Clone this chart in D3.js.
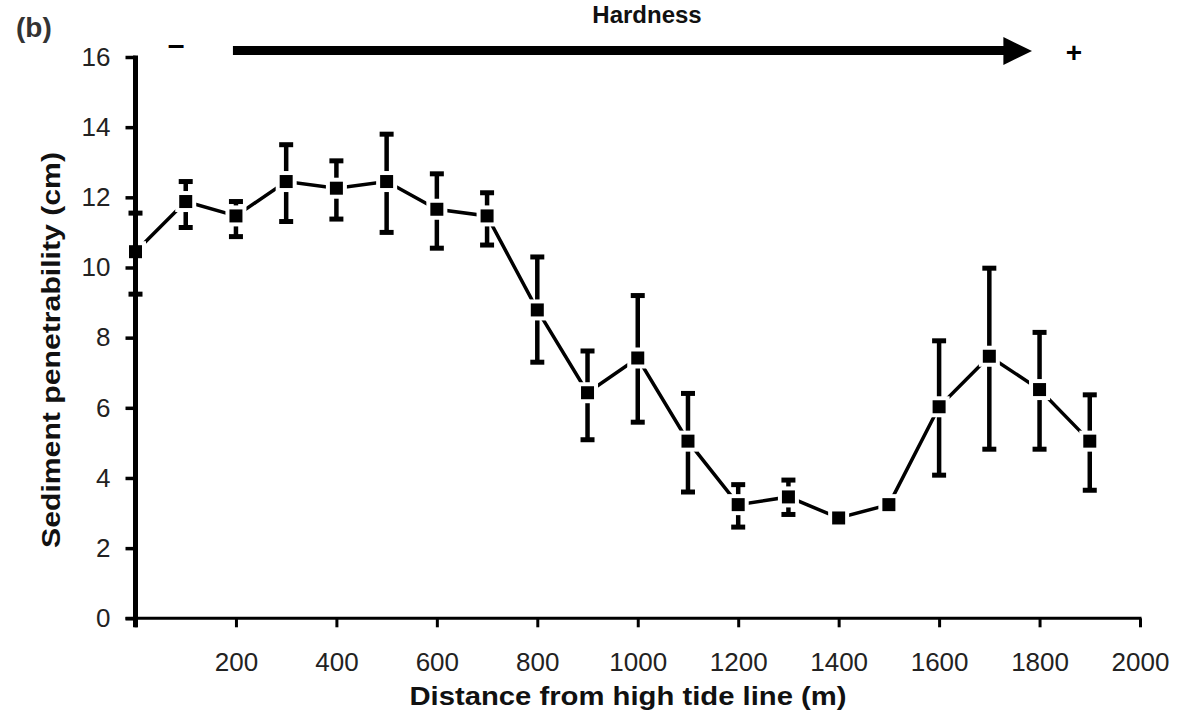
<!DOCTYPE html>
<html>
<head>
<meta charset="utf-8">
<script src="https://cdn.jsdelivr.net/npm/d3@7"></script>
<style>
  body { margin: 0; background: #fff; }
  svg { display: block; font-family: "Liberation Sans", Arial, sans-serif; }
</style>
</head>
<body>
<svg id="chart" width="1177" height="721"></svg>
<script>
// distance from high tide line (m)
const distance = [0, 100, 200, 300, 400, 500, 600, 700, 800, 900, 1000, 1100, 1200, 1300, 1400, 1500, 1600, 1700, 1800, 1900];
// sediment penetrability (cm), mean
const penetrability = [10.45, 11.88, 11.47, 12.45, 12.26, 12.45, 11.66, 11.47, 8.79, 6.43, 7.42, 5.05, 3.24, 3.46, 2.86, 3.24, 6.03, 7.47, 6.52, 5.05];
// error bar ends (null = no bar drawn)
const barTop = [11.55, 12.45, 11.88, 13.5, 13.04, 13.8, 12.67, 12.13, 10.3, 7.62, 9.2, 6.41, 3.81, 3.94, null, null, 7.91, 9.98, 8.15, 6.37];
const barBottom = [9.24, 11.14, 10.88, 11.31, 11.38, 11.0, 10.55, 10.64, 7.3, 5.09, 5.59, 3.6, 2.6, 2.96, null, null, 4.08, 4.82, 4.82, 3.65];

const xTicks = [0, 200, 400, 600, 800, 1000, 1200, 1400, 1600, 1800, 2000];
const yTicks = [0, 2, 4, 6, 8, 10, 12, 14, 16];

const svg = d3.select("#chart");

const x = d3.scaleLinear().domain([0, 2000]).range([135.5, 1140]);
const y = d3.scaleLinear().domain([0, 16]).range([618.3, 57]);

// axes
const xAxis = svg.append("g")
    .attr("transform", `translate(0, ${y(0)})`)
    .call(d3.axisBottom(x).tickValues(xTicks).tickSize(9).tickSizeOuter(0).tickPadding(25)
        .tickFormat(d => d === 0 ? "" : d));
xAxis.select(".domain").attr("stroke", "#000").attr("stroke-width", 3)
    .attr("d", `M${x(0) - 10},0H${x(2000) + 1.5}`);
xAxis.selectAll(".tick line").attr("stroke", "#000").attr("stroke-width", 3);
xAxis.selectAll(".tick text").attr("font-size", 26).attr("fill", "#222");

const yAxis = svg.append("g")
    .attr("transform", `translate(${x(0)}, 0)`)
    .call(d3.axisLeft(y).tickValues(yTicks).tickSize(10).tickSizeOuter(0).tickPadding(15));
yAxis.select(".domain").attr("stroke", "#000").attr("stroke-width", 5)
    .attr("d", `M0,${y(16) - 1.5}V${y(0) + 9}`);
yAxis.selectAll(".tick line").attr("stroke", "#000").attr("stroke-width", 3.5);
yAxis.selectAll(".tick text").attr("font-size", 26).attr("fill", "#222");

// axis titles
svg.append("text")
    .attr("x", 628).attr("y", 705)
    .attr("text-anchor", "middle")
    .attr("font-size", 25).attr("font-weight", "bold").attr("fill", "#111")
    .attr("textLength", 437).attr("lengthAdjust", "spacingAndGlyphs")
    .text("Distance from high tide line (m)");

svg.append("text")
    .attr("transform", "translate(60, 350) rotate(-90)")
    .attr("text-anchor", "middle")
    .attr("font-size", 25).attr("font-weight", "bold").attr("fill", "#111")
    .attr("textLength", 396).attr("lengthAdjust", "spacingAndGlyphs")
    .text("Sediment penetrability (cm)");

// panel label and hardness annotation
svg.append("text")
    .attr("x", 16).attr("y", 37)
    .attr("font-size", 28).attr("font-weight", "bold").attr("fill", "#333")
    .text("(b)");

svg.append("text")
    .attr("x", 647).attr("y", 23)
    .attr("text-anchor", "middle")
    .attr("font-size", 24).attr("font-weight", "bold").attr("fill", "#111")
    .text("Hardness");

svg.append("line")
    .attr("x1", x(194)).attr("x2", x(1735))
    .attr("y1", 50.5).attr("y2", 50.5)
    .attr("stroke", "#000").attr("stroke-width", 9);
svg.append("path")
    .attr("d", `M${x(1728)},37L${x(1785)},51L${x(1728)},65Z`)
    .attr("fill", "#000");

svg.append("text")
    .attr("x", 176).attr("y", 55)
    .attr("text-anchor", "middle")
    .attr("font-size", 30).attr("font-weight", "bold").attr("fill", "#000")
    .text("–");
svg.append("text")
    .attr("x", 1074).attr("y", 62)
    .attr("text-anchor", "middle")
    .attr("font-size", 28).attr("font-weight", "bold").attr("fill", "#000")
    .text("+");

// data
const pts = distance.map((d, i) => ({ d: d, v: penetrability[i], hi: barTop[i], lo: barBottom[i] }));

const line = d3.line().x(p => x(p.d)).y(p => y(p.v));
svg.append("path")
    .datum(pts)
    .attr("d", line)
    .attr("fill", "none")
    .attr("stroke", "#000")
    .attr("stroke-width", 3.5);

const bars = svg.append("g").selectAll("g")
    .data(pts.filter(p => p.hi !== null))
    .enter().append("g");

bars.append("line")
    .attr("x1", p => x(p.d)).attr("x2", p => x(p.d))
    .attr("y1", p => y(p.hi)).attr("y2", p => y(p.lo))
    .attr("stroke", "#000").attr("stroke-width", 4.5);
bars.append("line")
    .attr("x1", p => x(p.d) - 7).attr("x2", p => x(p.d) + 7)
    .attr("y1", p => y(p.hi)).attr("y2", p => y(p.hi))
    .attr("stroke", "#000").attr("stroke-width", 5);
bars.append("line")
    .attr("x1", p => x(p.d) - 7).attr("x2", p => x(p.d) + 7)
    .attr("y1", p => y(p.lo)).attr("y2", p => y(p.lo))
    .attr("stroke", "#000").attr("stroke-width", 5);

const markers = svg.append("g").selectAll("g")
    .data(pts)
    .enter().append("g");

markers.append("rect")
    .attr("x", p => x(p.d) - 10.5).attr("y", p => y(p.v) - 10.5)
    .attr("width", 21).attr("height", 21)
    .attr("fill", "#fff");
markers.append("rect")
    .attr("x", p => x(p.d) - 6.5).attr("y", p => y(p.v) - 6.5)
    .attr("width", 13).attr("height", 13)
    .attr("fill", "#000");

// redraw y axis line over the first marker halo
yAxis.raise();
</script>
</body>
</html>
